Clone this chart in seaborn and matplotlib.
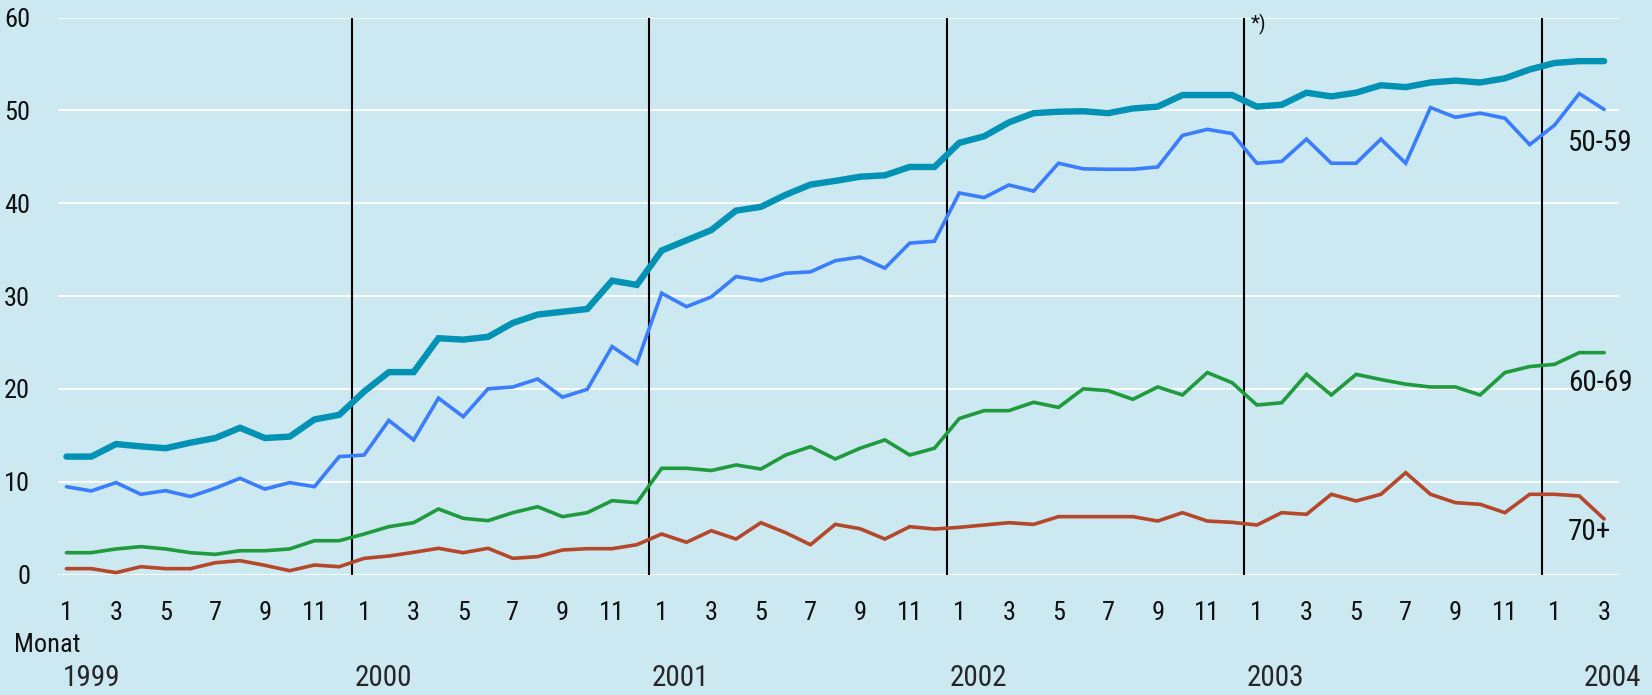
import numpy as np
import pandas as pd
import matplotlib
matplotlib.use("Agg")
import matplotlib.pyplot as plt
from matplotlib import font_manager
import seaborn as sns

# ---- data -------------------------------------------------------------
years = [1999, 2000, 2001, 2002, 2003, 2004]
month_numbers = list(range(1, 13)) * 5 + [1, 2, 3]

total = [12.7, 12.7, 14.05, 13.8, 13.6, 14.2, 14.7, 15.8, 14.7, 14.85, 16.7, 17.2,
         19.7, 21.8, 21.8, 25.45, 25.3, 25.6, 27.1, 28.0, 28.3, 28.6, 31.65, 31.2,
         34.9, 36.0, 37.1, 39.2, 39.6, 40.9, 42.0, 42.4, 42.85, 43.0, 43.9, 43.9,
         46.5, 47.2, 48.7, 49.7, 49.85, 49.9, 49.7, 50.2, 50.4, 51.65, 51.65, 51.65,
         50.4, 50.6, 51.9, 51.5, 51.9, 52.7, 52.5, 53.0, 53.2, 53.0, 53.45, 54.4,
         55.1, 55.3, 55.3]
age_50_59 = [9.46, 9.0, 9.9, 8.64, 9.03, 8.4, 9.3, 10.36, 9.2, 9.9, 9.46, 12.7,
             12.87, 16.6, 14.5, 19.0, 17.0, 20.0, 20.2, 21.06, 19.1, 19.95, 24.55, 22.75,
             30.3, 28.85, 29.9, 32.1, 31.65, 32.45, 32.6, 33.8, 34.2, 33.0, 35.7, 35.9,
             41.1, 40.6, 41.96, 41.3, 44.3, 43.7, 43.65, 43.65, 43.9, 47.3, 47.95, 47.5,
             44.3, 44.5, 46.9, 44.3, 44.3, 46.9, 44.3, 50.3, 49.25, 49.7, 49.15, 46.3,
             48.4, 51.8, 50.1]
age_60_69 = [2.35, 2.35, 2.75, 3.0, 2.75, 2.35, 2.17, 2.56, 2.56, 2.75, 3.64, 3.64,
             4.36, 5.15, 5.58, 7.06, 6.05, 5.8, 6.66, 7.3, 6.23, 6.66, 7.95, 7.74,
             11.44, 11.44, 11.2, 11.8, 11.36, 12.87, 13.77, 12.44, 13.6, 14.5, 12.87, 13.6,
             16.8, 17.65, 17.65, 18.55, 18.0, 20.0, 19.8, 18.87, 20.2, 19.34, 21.75, 20.66,
             18.26, 18.5, 21.56, 19.34, 21.56, 21.0, 20.5, 20.2, 20.2, 19.34, 21.75, 22.4,
             22.64, 23.9, 23.9]
age_70_plus = [0.63, 0.63, 0.2, 0.84, 0.63, 0.63, 1.27, 1.49, 0.99, 0.41, 1.02, 0.84,
               1.74, 1.99, 2.39, 2.82, 2.35, 2.82, 1.74, 1.92, 2.64, 2.78, 2.78, 3.21,
               4.36, 3.47, 4.72, 3.82, 5.58, 4.5, 3.21, 5.4, 4.93, 3.82, 5.15, 4.9,
               5.08, 5.33, 5.58, 5.4, 6.23, 6.23, 6.23, 6.23, 5.76, 6.66, 5.76, 5.62,
               5.33, 6.66, 6.48, 8.64, 7.92, 8.64, 10.97, 8.64, 7.74, 7.56, 6.66, 8.64,
               8.64, 8.46, 5.98]

series_names = ["Insgesamt", "50-59", "60-69", "70+"]
series_labels = ["", "50-59", "60-69", "70+"]
y_ticks = [0, 10, 20, 30, 40, 50, 60]

# ---- style ------------------------------------------------------------
BG = "#cce8f0"
colors = {"Insgesamt": "#0092b5", "50-59": "#3b7dff", "60-69": "#1f9a3d", "70+": "#b5482a"}
widths = {"Insgesamt": 4.6, "50-59": 2.6, "60-69": 2.6, "70+": 2.6}

sns.set_theme(style="white")

# pick a condensed face if one is available
fam = None
stretch = "normal"
entries = font_manager.fontManager.ttflist
names = {f.name for f in entries}
for cand in ["Liberation Sans Narrow", "Roboto Condensed", "Open Sans Condensed",
             "Noto Sans Condensed", "DejaVu Sans Condensed", "Arial Narrow"]:
    if cand in names:
        fam = cand
        break
if fam is None:
    for f in entries:
        st = str(f.stretch).lower()
        if f.name in ("DejaVu Sans", "Noto Sans", "Roboto", "Open Sans", "Liberation Sans") and \
                ("condensed" in st or st in ("500", "300", "400") and False):
            fam = f.name
            stretch = "condensed"
            break
if fam is None:
    for f in entries:
        if "narrow" in f.name.lower() or "condensed" in f.name.lower():
            fam = f.name
            break
if fam is None:
    fam = "Liberation Sans"

plt.rcParams["font.family"] = [fam, "DejaVu Sans"]
plt.rcParams["font.stretch"] = stretch

n = len(total)
idx = np.arange(n)
df = pd.DataFrame({"idx": np.tile(idx, 4),
                   "value": np.concatenate([total, age_50_59, age_60_69, age_70_plus]),
                   "series": np.repeat(series_names, n)})

fig = plt.figure(figsize=(16.52, 6.95), dpi=100, facecolor=BG)
ax = fig.add_axes([58 / 1652, 1 - 574.5 / 695, (1619 - 58) / 1652, (574.5 - 17.5) / 695])
ax.set_facecolor(BG)

for yv in y_ticks:
    ax.axhline(yv, color="white", lw=1.3, zorder=0)

# year separators
n_years = len(years) - 1
for k in range(1, n_years + 1):
    ax.plot([12 * k - 0.5, 12 * k - 0.5], [0, 60], color="black", lw=1.5, zorder=1,
            solid_capstyle="butt")

for s in series_names:
    sub = df[df["series"] == s]
    sns.lineplot(data=sub, x="idx", y="value", ax=ax, color=colors[s], lw=widths[s],
                 legend=False, zorder=3, clip_on=False, solid_joinstyle="miter")

ax.set_xlim(-0.34, 62.6)
ax.set_ylim(0, 60)
for sp in ax.spines.values():
    sp.set_visible(False)
ax.set_xlabel("")
ax.set_ylabel("")

tick_pos = [i for i in idx if month_numbers[i] % 2 == 1]
ax.set_xticks(tick_pos)
ax.set_xticklabels([str(month_numbers[i]) for i in tick_pos], fontsize=19, color="#111111")
ax.set_yticks(y_ticks)
ax.set_yticklabels([str(v) for v in y_ticks], fontsize=19, color="#111111")
ax.tick_params(axis="x", length=0, pad=19)
ax.tick_params(axis="y", length=0, pad=20)
for lab in ax.get_yticklabels():
    lab.set_horizontalalignment("right")

# "Monat" and year labels
fig.text(14 / 1652, 1 - 645 / 695, "Monat", fontsize=19, va="center", ha="left", color="#111111")
trans = matplotlib.transforms.blended_transform_factory(ax.transData, fig.transFigure)
year_y = 1 - 678 / 695
ax.text(-0.15, year_y, str(years[0]), transform=trans, fontsize=21, va="center", ha="left")
for k in range(1, n_years):
    ax.text(12 * k - 0.4, year_y, str(years[k]), transform=trans, fontsize=21, va="center", ha="left")
ax.text(63.5, year_y, str(years[-1]), transform=trans, fontsize=21, va="center", ha="right")

# series labels
label_y = {"50-59": 46.5, "60-69": 20.6, "70+": 4.6}
for s, lab in zip(series_names, series_labels):
    if lab:
        ax.text(60.55, label_y[s], lab, fontsize=21, va="center", ha="left", color="#111111")

ax.text(47.75, 59.3, "*)", fontsize=15, va="center", ha="left", color="#111111")

fig.savefig("out.png", dpi=100, facecolor=BG)
